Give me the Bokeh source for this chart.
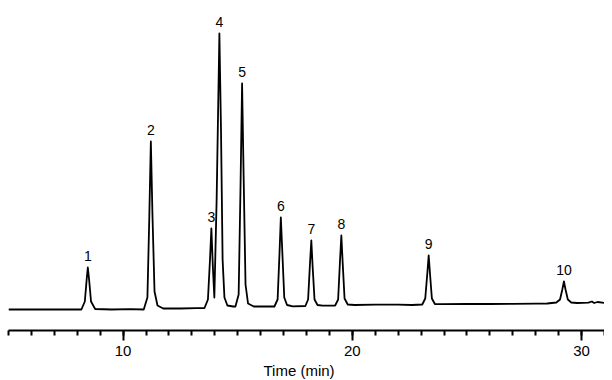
from bokeh.plotting import figure
from bokeh.models import Range1d, SingleIntervalTicker, ColumnDataSource, Title
from bokeh.core.properties import value
from bokeh.embed import file_html
from bokeh.resources import INLINE

# Chromatogram trace (time in min, signal in arbitrary units)
trace_time = [5.0, 8.18, 8.33, 8.41, 8.46, 8.52, 8.60, 8.78, 9.5, 10.3,
              10.90, 11.06, 11.14, 11.21, 11.28, 11.37, 11.50, 11.75, 12.5, 13.2,
              13.55, 13.70, 13.79, 13.85, 13.92, 13.98, 14.08, 14.20, 14.27, 14.34,
              14.42, 14.55, 14.80, 14.90, 15.04, 15.12, 15.19, 15.26, 15.34, 15.45,
              15.70, 16.2, 16.60, 16.74, 16.82, 16.88, 16.95, 17.03, 17.15, 17.40,
              17.95, 18.07, 18.15, 18.21, 18.27, 18.35, 18.48, 18.70, 19.25, 19.38,
              19.46, 19.52, 19.58, 19.66, 19.80, 20.10, 21.0, 22.0, 22.6, 23.05,
              23.18, 23.27, 23.33, 23.39, 23.47, 23.60, 23.90, 25.0, 26.0, 27.0,
              28.0, 28.5, 28.90, 29.06, 29.16, 29.23, 29.30, 29.40, 29.55, 29.80,
              30.3, 30.45, 30.55, 30.7, 31.0]
trace_signal = [0, 0, 8, 30, 42, 29, 8, 0.5, 0, 0.3,
                0, 12, 90, 168, 95, 18, 4, 1, 1, 1.3,
                1.5, 10, 50, 81, 40, 12, 110, 276, 180, 50,
                12, 4, 3, 3, 15, 120, 226, 130, 25, 6,
                3, 3, 3, 10, 55, 92, 55, 12, 4.5, 3.2,
                3.5, 10, 45, 69, 42, 10, 4.5, 3.8, 4, 10,
                48, 74, 46, 11, 5, 4.5, 4.8, 4.8, 4.5, 5,
                11, 36, 54, 35, 11, 5.5, 5.3, 5.5, 5.5, 5.7,
                5.8, 6, 7, 10, 20, 28, 20, 10, 7, 6.5,
                6.8, 8, 6.5, 7.5, 6.5]

# Peak annotations
peak_times = [8.46, 11.21, 13.85, 14.20, 15.19, 16.88, 18.21, 19.52, 23.33, 29.23]
peak_heights = [42, 168, 81, 276, 226, 92, 69, 74, 54, 28]
peak_labels = ["1", "2", "3", "4", "5", "6", "7", "8", "9", "10"]
x_label = "Time (min)"

p = figure(frame_width=596, frame_height=322,
           x_range=Range1d(5, 31), y_range=Range1d(-21, 301),
           y_axis_location=None, toolbar_location=None,
           output_backend="svg", min_border=0,
           min_border_left=8, min_border_top=8)
p.outline_line_color = None
p.xgrid.visible = False
p.ygrid.visible = False
p.background_fill_color = "white"
p.border_fill_color = "white"

p.line(trace_time, trace_signal, line_color="black", line_width=1.8,
       line_join="round")

src = ColumnDataSource(dict(x=peak_times, y=peak_heights, t=peak_labels))
p.text(x="x", y="y", text="t", source=src, text_align="center",
       text_baseline="middle", y_offset=-12,
       text_font=value("Liberation Sans"), text_font_size="14px",
       text_color="black")

ax = p.xaxis[0]
ax.ticker = SingleIntervalTicker(interval=10, num_minor_ticks=10)
ax.major_label_text_font = "Liberation Sans"
ax.major_label_text_font_size = "15px"
ax.major_label_text_color = "black"
ax.major_label_standoff = 5
ax.axis_line_width = 2
ax.axis_line_color = "black"
ax.major_tick_line_width = 2
ax.minor_tick_line_width = 2
ax.major_tick_line_color = "black"
ax.minor_tick_line_color = "black"
ax.major_tick_in = 0
ax.major_tick_out = 10
ax.minor_tick_in = 0
ax.minor_tick_out = 5

xt = Title(text=x_label, align="left", offset=255, standoff=2,
           text_font="Liberation Sans", text_font_size="15px",
           text_font_style="normal", text_color="black")
p.add_layout(xt, "below")

open("out.html", "w").write(file_html(p, INLINE))
